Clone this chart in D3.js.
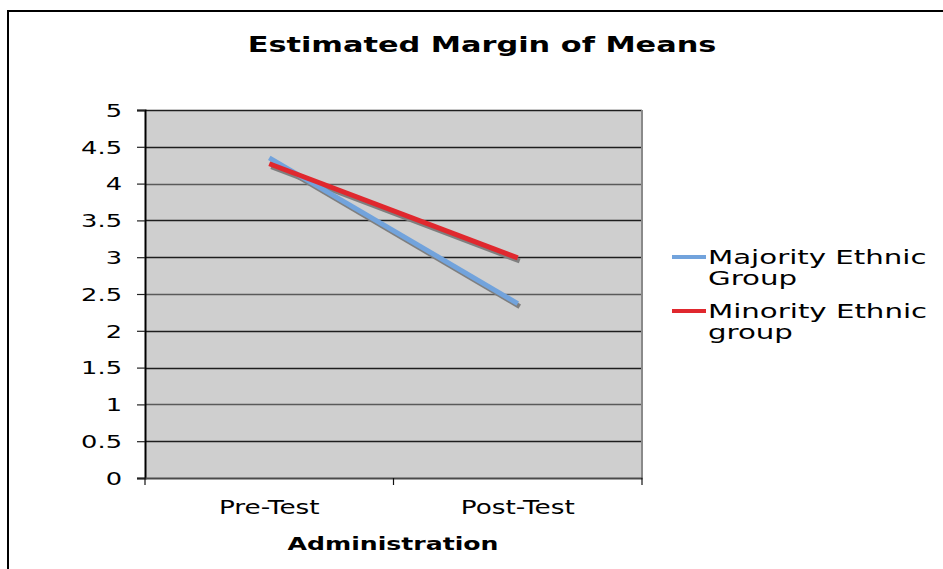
<!DOCTYPE html>
<html>
<head>
<meta charset="utf-8">
<script src="https://cdn.jsdelivr.net/npm/d3@7"></script>
<style>
  html, body { margin: 0; padding: 0; background: #fff; }
  svg { display: block; font-family: "DejaVu Sans", Verdana, sans-serif; }
</style>
</head>
<body>
<svg id="chart" width="943" height="569"></svg>
<script>
const categories = ["Pre-Test", "Post-Test"];
const seriesNames = ["Majority Ethnic Group", "Minority Ethnic group"];
const majorityValues = [4.35, 2.37];
const minorityValues = [4.27, 2.99];
const yTicks = [0, 0.5, 1, 1.5, 2, 2.5, 3, 3.5, 4, 4.5, 5];
const titleText = "Estimated Margin of Means";
const xTitleText = "Administration";
const legendLines = [["Majority Ethnic", "Group"], ["Minority Ethnic", "group"]];
const colors = ["#72a3dc", "#e0282e"];

const svg = d3.select("#chart");
const plot = { left: 145, right: 642, top: 110, bottom: 478 };

// stretch text horizontally around its anchor
function stretch(sel, k) {
  sel.each(function () {
    const t = d3.select(this);
    const x = +t.attr("x") || 0;
    t.attr("transform", `translate(${x},0) scale(${k},1) translate(${-x},0)`);
  });
}

// outer border
svg.append("rect").attr("x", 8).attr("y", 11).attr("width", 1200).attr("height", 1200)
  .attr("fill", "none").attr("stroke", "#000").attr("stroke-width", 2);

const x = d3.scaleBand().domain(categories).range([plot.left, plot.right]).paddingInner(0).paddingOuter(0);
const y = d3.scaleLinear().domain([0, 5]).range([plot.bottom, plot.top]);

// plot background
svg.append("rect").attr("x", plot.left).attr("y", plot.top)
  .attr("width", plot.right - plot.left).attr("height", plot.bottom - plot.top)
  .attr("fill", "#cfcfcf");

// gridlines
svg.append("g").selectAll("line").data(yTicks.filter(d => d > 0)).join("line")
  .attr("x1", plot.left).attr("x2", plot.right)
  .attr("y1", d => Math.round(y(d)) + 0.5).attr("y2", d => Math.round(y(d)) + 0.5)
  .attr("stroke", (d, i) => (i % 3 === 1 ? "#5a5a5a" : "#1e1e1e")).attr("stroke-width", 1.3);

// right border
svg.append("line").attr("x1", plot.right).attr("x2", plot.right)
  .attr("y1", plot.top).attr("y2", plot.bottom)
  .attr("stroke", "#8a8a8a").attr("stroke-width", 2);

// y axis
const yAxis = svg.append("g").attr("transform", `translate(${plot.left},0)`)
  .call(d3.axisLeft(y).tickValues(yTicks).tickFormat(d3.format("")).tickSize(8).tickPadding(15));
yAxis.select(".domain").attr("stroke", "#000").attr("stroke-width", 2);
yAxis.selectAll(".tick line").attr("stroke", "#222").attr("stroke-width", 1.2);
yAxis.selectAll("text").attr("font-size", 17.5).attr("fill", "#000")
  .attr("font-family", "DejaVu Sans, Verdana, sans-serif").attr("dy", "0.36em");
stretch(yAxis.selectAll("text"), 1.47);

// x axis
const xAxis = svg.append("g").attr("transform", `translate(0,${plot.bottom})`)
  .call(d3.axisBottom(x).tickSize(0).tickPadding(22));
xAxis.select(".domain").attr("stroke", "#4a4a4a").attr("stroke-width", 2);
xAxis.selectAll("text").attr("font-size", 19.5).attr("fill", "#000")
  .attr("font-family", "DejaVu Sans, Verdana, sans-serif");
stretch(xAxis.selectAll("text"), 1.35);
// category boundary ticks
const bounds = categories.map(c => x(c)).concat([x(categories[categories.length - 1]) + x.bandwidth()]);
svg.append("g").selectAll("line").data(bounds).join("line")
  .attr("x1", d => d).attr("x2", d => d)
  .attr("y1", plot.bottom).attr("y2", plot.bottom + 7)
  .attr("stroke", "#111").attr("stroke-width", 1.2);

// lines with shadows
const seriesData = [majorityValues, minorityValues];
const lineGen = d3.line()
  .x((d, i) => x(categories[i]) + x.bandwidth() / 2)
  .y(d => y(d));

const shadows = svg.append("g").attr("transform", "translate(2,3)");
seriesData.forEach(vals => {
  shadows.append("path").datum(vals).attr("d", lineGen)
    .attr("fill", "none").attr("stroke", "#7f7f7f").attr("stroke-width", 5).attr("stroke-linecap", "butt");
});
seriesData.forEach((vals, i) => {
  svg.append("path").datum(vals).attr("d", lineGen)
    .attr("fill", "none").attr("stroke", colors[i]).attr("stroke-width", 5).attr("stroke-linecap", "butt");
});

// title
const title = svg.append("text").attr("x", 482).attr("y", 52).attr("text-anchor", "middle")
  .attr("font-size", 22).attr("font-weight", "bold").attr("fill", "#000").text(titleText);
stretch(title, 1.38);

// x axis title
const xt = svg.append("text").attr("x", 393).attr("y", 550).attr("text-anchor", "middle")
  .attr("font-size", 18.5).attr("font-weight", "bold").attr("fill", "#000").text(xTitleText);
stretch(xt, 1.36);

// legend
const legend = svg.append("g");
const legendY = [257, 311];
seriesNames.forEach((name, i) => {
  legend.append("line").attr("x1", 672).attr("x2", 706)
    .attr("y1", legendY[i]).attr("y2", legendY[i])
    .attr("stroke", colors[i]).attr("stroke-width", 4);
  legendLines[i].forEach((ln, j) => {
    const t = legend.append("text").attr("x", 708).attr("y", legendY[i] + 7 + j * 21)
      .attr("font-size", 19.5).attr("fill", "#000").text(ln);
    stretch(t, 1.5);
  });
});
</script>
</body>
</html>
